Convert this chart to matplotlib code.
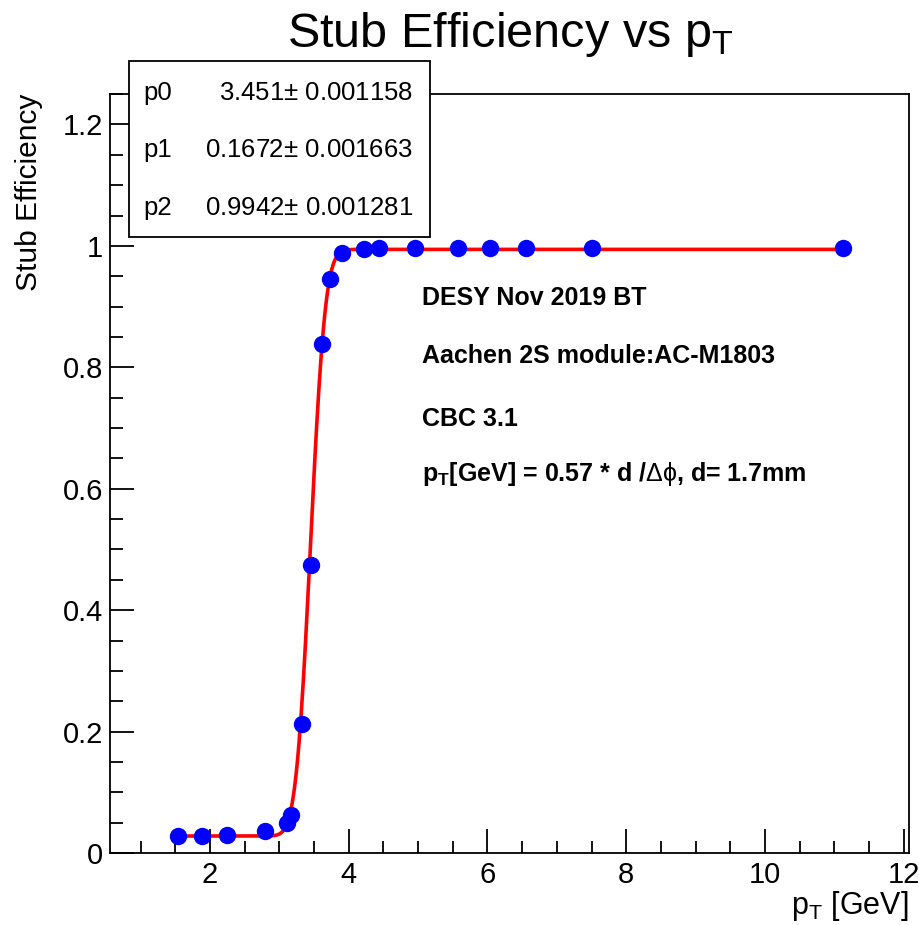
import numpy as np
import matplotlib
matplotlib.use('Agg')
import matplotlib.pyplot as plt
from matplotlib.patches import Rectangle
from math import erf

plt.rcParams['font.family'] = ['Liberation Sans', 'DejaVu Sans']
plt.rcParams['mathtext.fontset'] = 'custom'
plt.rcParams['mathtext.rm'] = 'Liberation Sans'
plt.rcParams['mathtext.it'] = 'Liberation Sans'
plt.rcParams['mathtext.bf'] = 'Liberation Sans:bold'

pt = [1.54, 1.88, 2.25, 2.80, 3.11, 3.17, 3.32, 3.46, 3.62, 3.73, 3.90,
      4.22, 4.44, 4.96, 5.57, 6.04, 6.55, 7.51, 11.12]
eff = [0.028, 0.028, 0.030, 0.036, 0.050, 0.062, 0.213, 0.474, 0.838, 0.945, 0.988,
       0.995, 0.997, 0.997, 0.997, 0.997, 0.997, 0.997, 0.997]

# fit parameters shown in the stats box
par_names = ['p0', 'p1', 'p2']
par_vals = ['3.451', '0.1672', '0.9942']
par_errs = ['0.001158', '0.001663', '0.001281']
p0, p1, p2 = 3.451, 0.1672, 0.9942
low_plateau = 0.028

labels = ['DESY Nov 2019 BT', 'Aachen 2S module:AC-M1803', 'CBC 3.1',
          r'$\mathbf{p_{T}}$[GeV] = 0.57 * d /$\Delta\phi$, d= 1.7mm']

fig = plt.figure(figsize=(9.2, 9.25), dpi=100)
ax = fig.add_axes([0.1196, 0.0778, 0.868, 0.8205])

# fit curve
xf = np.linspace(min(pt), max(pt), 600)
cdf = np.array([0.5 * (1 + erf((x - p0) / (p1 * np.sqrt(2)))) for x in xf])
yf = low_plateau + (p2 - low_plateau) * cdf
ax.plot(xf, yf, color='red', lw=2.6, zorder=2)
ax.plot(pt, eff, 'o', color='blue', ms=11.5, zorder=3)

ax.set_xlim(0.56, 12.07)
ax.set_ylim(0, 1.25)
ax.set_xticks([2, 4, 6, 8, 10, 12])
ax.set_xticks(np.arange(1.0, 12.01, 0.5), minor=True)
ax.set_yticks([0, 0.2, 0.4, 0.6, 0.8, 1.0, 1.2])
ax.set_yticklabels(['0', '0.2', '0.4', '0.6', '0.8', '1', '1.2'])
ax.set_yticks(np.arange(0, 1.251, 0.05), minor=True)
ax.tick_params(which='both', direction='in', top=False, right=False, labelsize=21, width=1.3)
ax.tick_params(axis='y', which='major', length=17, pad=5)
ax.tick_params(axis='x', which='major', length=17, pad=6)
ax.tick_params(which='minor', length=9)
for s in ax.spines.values():
    s.set_linewidth(1.3)

fig.text(0.555, 1 - 47 / 925, r'Stub Efficiency vs p$_{T}$', fontsize=35,
         ha='center', va='baseline')
ax.set_xlabel(r'p$_{T}$ [GeV]', fontsize=22, loc='right', labelpad=0)
ax.set_ylabel('Stub Efficiency', fontsize=21.5, loc='top', labelpad=14)

ys = [0.902, 0.807, 0.704, 0.612]
for t, y in zip(labels, ys):
    ax.text(5.06, y, t, fontsize=18, fontweight='bold', va='baseline')

# stats box
fig.add_artist(Rectangle((0.140, 0.744), 0.327, 0.190, transform=fig.transFigure,
                         facecolor='white', edgecolor='black', lw=1.3, zorder=5))
rows_y = [1 - 100 / 925, 1 - 157 / 925, 1 - 215 / 925]
for n, v, e, y in zip(par_names, par_vals, par_errs, rows_y):
    fig.text(0.156, y, n, fontsize=18.5, va='baseline', zorder=6)
    fig.text(0.449, y, v + r'$\pm$ ' + e, fontsize=18.5, va='baseline', ha='right', zorder=6)

fig.savefig('out.png', dpi=100)
